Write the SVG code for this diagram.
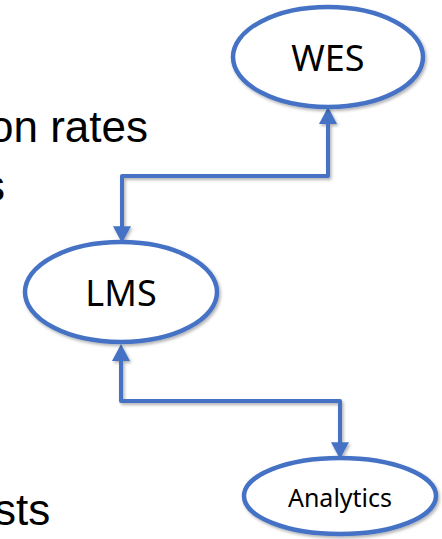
<svg xmlns="http://www.w3.org/2000/svg" width="442" height="539" viewBox="0 0 442 539">
  <style>
    .node ellipse { fill: #ffffff; stroke: #4472C4; stroke-width: 4.5; filter: url(#shadow); }
    .label { font-family: "Noto Sans", "Open Sans", sans-serif; fill: #000000; text-anchor: middle; }
    .conn { fill: none; stroke: #4472C4; stroke-width: 4; stroke-linejoin: round; marker-start: url(#arrow); marker-end: url(#arrow); filter: url(#shadow); }
    .bg { font-family: "Liberation Sans", Arial, sans-serif; font-size: 44px; fill: #000000; }
  </style>
  <defs>
    <filter id="shadow" x="-20%" y="-20%" width="140%" height="140%">
      <feDropShadow dx="1.5" dy="2" stdDeviation="1.5" flood-color="#000000" flood-opacity="0.3"/>
    </filter>
    <marker id="arrow" markerUnits="userSpaceOnUse" markerWidth="18" markerHeight="18" viewBox="0 0 15 16" refX="7" refY="8" orient="auto-start-reverse">
      <path d="M0,0 L15,8 L0,16 z" fill="#4472C4"/>
    </marker>
  </defs>
  <rect width="442" height="539" fill="#ffffff"/>

  <g id="background-text">
    <text class="bg" x="-11" y="142">on rates</text>
    <text class="bg" x="-17" y="201">s</text>
    <text class="bg" x="-6" y="525">sts</text>
  </g>

  <g id="connectors">
    <path class="conn" d="M328,116 V176 H122 V234"/>
    <path class="conn" d="M121,353 V401 H340 V450"/>
  </g>

  <g id="node-wes" class="node">
    <ellipse cx="328" cy="57" rx="95" ry="50"/>
    <text class="label" x="328" y="71" font-size="36">WES</text>
  </g>
  <g id="node-lms" class="node">
    <ellipse cx="121" cy="292" rx="96" ry="50"/>
    <text class="label" x="121" y="306" font-size="36">LMS</text>
  </g>
  <g id="node-analytics" class="node">
    <ellipse cx="340" cy="496" rx="96" ry="38"/>
    <text class="label" x="340" y="507" font-size="25">Analytics</text>
  </g>
</svg>
